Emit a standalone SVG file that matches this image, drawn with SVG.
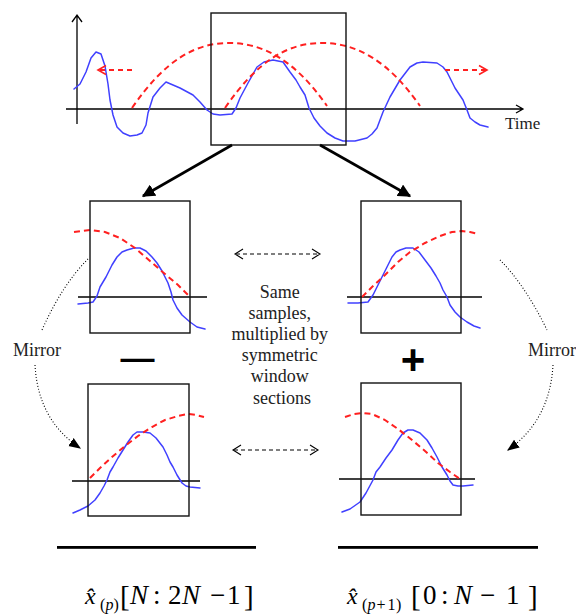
<svg xmlns="http://www.w3.org/2000/svg" width="576" height="614" viewBox="0 0 576 614">
<style>
.box{fill:none;stroke:#111;stroke-width:1.4}
.ax{fill:none;stroke:#000;stroke-width:1.3}
.sig{fill:none;stroke:#4040ff;stroke-width:1.5;stroke-linejoin:round;stroke-linecap:round}
.win{fill:none;stroke:#ff2020;stroke-width:2;stroke-dasharray:6 4}
.warr{fill:none;stroke:#ff2020;stroke-width:1.8;stroke-dasharray:5 4}
.big{fill:none;stroke:#000;stroke-width:2.6}
.dash{fill:none;stroke:#000;stroke-width:1.1;stroke-dasharray:4 3}
.dot{fill:none;stroke:#000;stroke-width:1.1;stroke-dasharray:1 2}
.lbl{fill:#222}
.math{fill:#000}
.sym{font-weight:bold;fill:#000}
</style>
<defs>
<marker id="fillHead" viewBox="0 0 10 10" refX="9" refY="5" markerWidth="5" markerHeight="5" orient="auto" markerUnits="strokeWidth">
<path d="M0,0 L10,5 L0,10 z" fill="#000"/>
</marker>
<marker id="dotHead" viewBox="0 0 10 10" refX="9" refY="5" markerWidth="11" markerHeight="11" orient="auto" markerUnits="strokeWidth">
<path d="M0,1 L10,5 L0,9 z" fill="#000"/>
</marker>
</defs>
<rect width="576" height="614" fill="#fff"/>

<g id="timeline">
<path class="ax" d="M77,124 L77,15 M72,22 L77,15 L82,22"/>
<path class="ax" d="M66,109 L523,109 M516,105 L523,109 L516,113"/>
<text class="lbl" x="505" y="129" font-family="Liberation Serif, DejaVu Serif, serif" font-size="17">Time</text>
<path class="sig" d="M74,89 L80,84 L86,72 L91,58 L96,52 L101,54 L105,66 L108,84 L110,100 L113,115 L117,127 L123,133 L130,136 L137,135 L142,133 L146,125 L148,113 L153,97 L160,88 L166,82 L180,88 L193,95 L200,102 L207,110 L213,114 L220,115 L232,114 L236,108 L240,98 L248,83 L257,67 L264,62 L273,60 L283,62 L290,72 L296,80 L300,87 L305,95 L309,108 L314,118 L320,126 L327,133 L335,138 L343,141 L355,141 L367,138 L372,134 L377,128 L383,112 L390,97 L400,80 L410,67 L417,63 L423,62 L437,63 L443,67 L447,72 L455,88 L463,100 L467,110 L470,118 L475,122 L480,125 L488,127"/>
<path class="win" d="M132,108 C165,60 195,43 229,43 C263,43 295,60 327,106"/>
<path class="win" d="M225,108 C258,60 288,43 322,43 C356,43 388,60 420,106"/>
<path class="warr" d="M132,70 L99,70"/>
<path class="ax" style="stroke:#ff2020;stroke-width:1.6" d="M106,65.5 L98,70 L106,74.5"/>
<path class="warr" d="M445,70 L486,70"/>
<path class="ax" style="stroke:#ff2020;stroke-width:1.6" d="M479,65.5 L487,70 L479,74.5"/>
</g>
<g id="window-top">
<rect class="box" x="211" y="13" width="135" height="132"/>
</g>

<g id="panel-top-left">
<path class="ax" d="M78,297 L207,297"/>
<path class="sig" d="M78,304 L88,303 L93,302 L97,296 L100,287 L106,277 L112,265 L117,257 L122,252 L127,250 L134,248 L140,248 L146,251 L152,257 L157,263 L162,271 L165,277 L168,283 L171,292 L173,300 L177,308 L182,315 L190,322 L197,327 L205,329"/>
<path class="win" d="M74,232 L90,230 L105,232 L120,238 L135,248 L150,261 L165,274 L178,285 L188,295"/>
<rect class="box" x="90" y="201" width="100" height="132"/>
</g>

<g id="panel-top-right">
<path class="ax" d="M347,297 L482,297"/>
<path class="sig" d="M348,303 L358,303 L368,302 L373,295 L378,285 L383,275 L388,265 L392,257 L396,252 L400,250 L406,248 L413,248 L419,252 L425,260 L431,268 L436,276 L440,283 L443,290 L447,297 L450,305 L455,312 L460,317 L467,322 L474,326 L480,328"/>
<path class="win" d="M362,297 L372,287 L385,275 L398,262 L410,252 L425,243 L440,236 L452,232 L462,231 L470,232 L478,234"/>
<rect class="box" x="361" y="201" width="100" height="132"/>
</g>

<g id="panel-bottom-left">
<path class="ax" d="M72,481 L200,481"/>
<path class="sig" d="M73,513 L80,510 L88,506 L95,500 L100,493 L104,486 L107,480 L110,472 L113,467 L118,458 L123,450 L128,442 L133,435 L137,432 L143,432 L150,433 L156,438 L163,447 L167,455 L170,462 L173,467 L177,475 L182,483 L186,486 L190,487 L200,488"/>
<path class="win" d="M90,478 L100,468 L112,457 L125,446 L138,436 L152,427 L165,420 L178,416 L188,414 L196,415 L204,417"/>
<rect class="box" x="88" y="384" width="101" height="132"/>
</g>

<g id="panel-bottom-right">
<path class="ax" d="M339,479 L475,479"/>
<path class="sig" d="M342,512 L350,509 L360,502 L366,493 L373,480 L376,472 L380,467 L386,458 L392,450 L398,440 L403,433 L408,430 L413,430 L420,433 L427,440 L432,448 L437,457 L442,467 L447,475 L450,481 L453,485 L458,486 L463,486 L473,485"/>
<path class="win" d="M345,417 L354,414 L363,413 L372,414 L385,420 L398,429 L412,440 L425,451 L438,463 L450,472 L460,479"/>
<rect class="box" x="361" y="383" width="100" height="132"/>
</g>

<g id="label-center">
<text class="lbl" text-anchor="middle" font-family="Liberation Serif, DejaVu Serif, serif" font-size="18">
<tspan x="282" y="298">Same</tspan>
<tspan x="282" y="319">samples,</tspan>
<tspan x="282" y="340">multiplied by</tspan>
<tspan x="282" y="361">symmetric</tspan>
<tspan x="282" y="382">window</tspan>
<tspan x="282" y="404">sections</tspan>
</text>
</g>

<g id="mirror-left"><text class="lbl" x="13" y="356" font-family="Liberation Serif, DejaVu Serif, serif" font-size="18">Mirror</text></g>
<g id="mirror-right"><text class="lbl" x="528" y="356" font-family="Liberation Serif, DejaVu Serif, serif" font-size="18">Mirror</text></g>

<g id="op-minus"><text class="sym" x="137.5" y="369" font-family="Liberation Sans, Arial, sans-serif" font-size="34" text-anchor="middle">—</text></g>
<g id="op-plus"><text class="sym" x="413" y="374" font-family="Liberation Sans, Arial, sans-serif" font-size="42" text-anchor="middle">+</text></g>

<g id="connectors">
<path class="big" d="M232,145 L143,196" marker-end="url(#fillHead)"/>
<path class="big" d="M320,145 L410,196" marker-end="url(#fillHead)"/>
<path class="dash" d="M236,254 L319,254"/>
<path class="ax" style="stroke-width:1.1" d="M243,249 L235,254 L243,259 M312,249 L320,254 L312,259"/>
<path class="dash" d="M234,450 L317,450"/>
<path class="ax" style="stroke-width:1.1" d="M241,445 L233,450 L241,455 M310,445 L318,450 L310,455"/>
<path class="dot" d="M88,259 Q62,285 42,330"/>
<path class="dot" d="M35,365 Q38,420 80,448" marker-end="url(#dotHead)"/>
<path class="dot" d="M500,260 Q525,285 547,330"/>
<path class="dot" d="M553,365 Q550,420 508,450" marker-end="url(#dotHead)"/>
</g>

<g id="sum-lines">
<rect x="57" y="546" width="199" height="2.8" fill="#000"/>
<rect x="338" y="546" width="200" height="2.8" fill="#000"/>
</g>

<g id="formula-left" class="math" font-family="Liberation Serif, DejaVu Serif, serif">
<text y="604"><tspan x="85" y="604" font-size="24" font-style="italic">x&#x302;</tspan><tspan x="100" y="610" font-size="16">(</tspan><tspan x="105.5" y="610" font-size="16" font-style="italic">p</tspan><tspan x="113.5" y="610" font-size="16">)</tspan><tspan x="120" y="606" font-size="29">[</tspan><tspan x="130" y="604" font-size="27" font-style="italic">N</tspan><tspan x="153" y="604" font-size="27">:</tspan><tspan x="168" y="604" font-size="27">2</tspan><tspan x="182" y="604" font-size="27" font-style="italic">N</tspan><tspan x="210" y="604" font-size="27">−</tspan><tspan x="227" y="604" font-size="27">1</tspan><tspan x="244" y="606" font-size="29">]</tspan></text>
</g>

<g id="formula-right" class="math" font-family="Liberation Serif, DejaVu Serif, serif">
<text y="604"><tspan x="347" y="604" font-size="24" font-style="italic">x&#x302;</tspan><tspan x="362" y="610" font-size="16">(</tspan><tspan x="367.5" y="610" font-size="16" font-style="italic">p</tspan><tspan x="376.5" y="610" font-size="16">+</tspan><tspan x="387.5" y="610" font-size="16">1</tspan><tspan x="396" y="610" font-size="16">)</tspan><tspan x="411" y="606" font-size="29">[</tspan><tspan x="423" y="604" font-size="27">0</tspan><tspan x="441" y="604" font-size="27">:</tspan><tspan x="454" y="604" font-size="27" font-style="italic">N</tspan><tspan x="480" y="604" font-size="27">−</tspan><tspan x="506" y="604" font-size="27">1</tspan><tspan x="528" y="606" font-size="29">]</tspan></text>
</g>
</svg>
